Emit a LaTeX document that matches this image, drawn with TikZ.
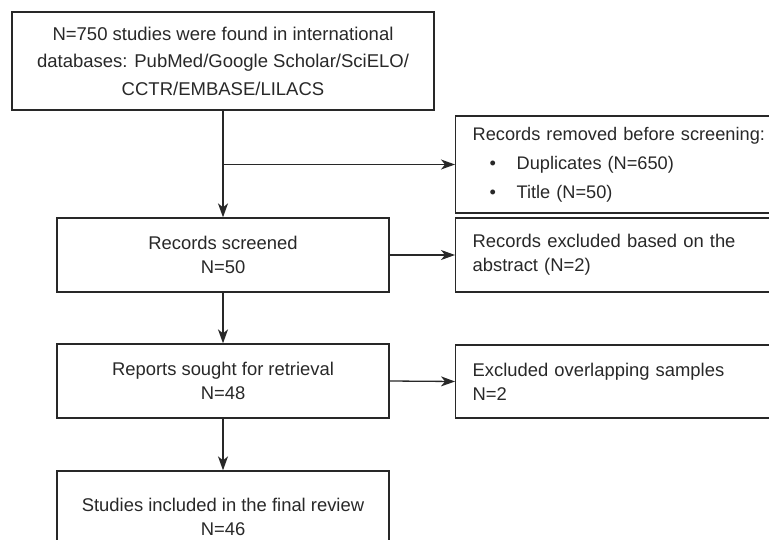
\documentclass[tikz,border=0pt]{standalone}
\usepackage{fontspec}
\setmainfont{Liberation Sans}
\usetikzlibrary{arrows.meta}
\definecolor{lc}{RGB}{40,40,40}
\definecolor{tc}{RGB}{40,40,40}
\tikzset{
  x=1pt, y=-1pt,
  box/.style={draw=lc, line width=1.3pt, text=tc, inner sep=0pt, font=\fontsize{18.4}{24}\selectfont},
  mainbox/.style={box, minimum width=332pt, minimum height=74pt, align=center},
  sidebox/.style={box, anchor=west, minimum width=340pt, text width=306pt, inner xsep=17pt, align=left},
  arr/.style={draw=lc, line width=1.3pt, -{Stealth[length=14pt,width=10pt,inset=4pt]}},
  ln/.style={draw=lc, line width=1.3pt}
}
\begin{document}
\begin{tikzpicture}
\useasboundingbox (0,0) rectangle (769,540);
\clip (0,0) rectangle (769,540);
\node[box, minimum width=422pt, minimum height=98pt, align=center, font=\fontsize{18.5}{27.5}\selectfont] (top) at (223,61)
  {N=750 studies were found in international\\databases: PubMed/Google Scholar/SciELO/\\CCTR/EMBASE/LILACS};
\node[sidebox, minimum height=97pt, font=\fontsize{18.2}{29}\selectfont] (removed) at (455,164.5)
  {Records removed before screening:\\\hspace*{17pt}\makebox[27pt][l]{\textbullet}Duplicates (N=650)\\\hspace*{17pt}\makebox[27pt][l]{\textbullet}Title (N=50)};
\node[mainbox] (screened) at (223,255) {Records screened\\N=50};
\node[sidebox, minimum height=74pt] (excl) at (455,255) {Records excluded based on the\\abstract (N=2)};
\node[mainbox] (reports) at (223,381) {Reports sought for retrieval\\N=48};
\node[sidebox, minimum height=73pt] (overlap) at (455,381.5) {Excluded overlapping samples\\N=2};
\node[mainbox, minimum height=92pt] (final) at (223,517) {Studies included in the final review\\N=46};
\coordinate (branch) at (top.south |- removed.west);
\draw[arr] (top.south) -- (screened.north);
\draw[arr] (branch) -- (removed.west);
\draw[arr] (screened.east) -- (excl.west);
\draw[arr] (screened.south) -- (reports.north);
\draw[arr] (reports.east) -- (overlap.west);
\draw[arr] (reports.south) -- (final.north);
\end{tikzpicture}
\end{document}
